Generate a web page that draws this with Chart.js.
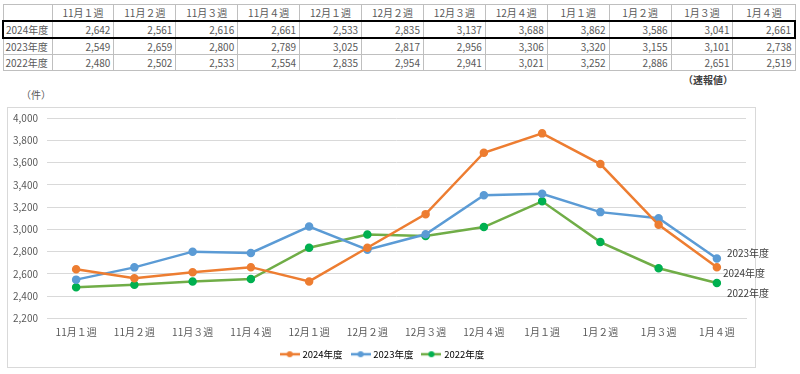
<!DOCTYPE html>
<html>
<head>
    <style>
        body, html {
            margin: 0;
            width: 800px;
            height: 374px;
            background: #ffffff;
            font-family: 'Noto Sans CJK JP', sans-serif;
            overflow: hidden;
        }
        #dataTable {
            position: absolute;
            left: 2px;
            top: 4px;
            width: 794px;
            border-collapse: collapse;
            table-layout: fixed;
            font-size: 10px;
            color: #595959;
        }
        #dataTable td {
            border: 1px solid #bfbfbf;
            height: 15px;
            padding: 0 3px;
            line-height: 15px;
            white-space: nowrap;
            text-align: right;
        }
        #dataTable tr.head td { text-align: center; }
        #dataTable td.rowLabel { text-align: left; padding-left: 2px; }
        #dataTable tr.current td {
            border-top: 2px solid #000;
            border-bottom: 2px solid #000;
        }
        #dataTable tr.current td:first-child { border-left: 2px solid #000; }
        #dataTable tr.current td:last-child { border-right: 2px solid #000; }
        #note {
            position: absolute;
            left: 683px;
            top: 72px;
            font-size: 10px;
            font-weight: bold;
            color: #404040;
        }
        #unit {
            position: absolute;
            left: 21px;
            top: 87px;
            font-size: 10px;
            color: #595959;
        }
        #chartBox {
            position: absolute;
            left: 7px;
            top: 107px;
            width: 747px;
            height: 259px;
            border: 1px solid #d9d9d9;
        }
        #chartWrap {
            position: absolute;
            left: 0;
            top: 100px;
            width: 800px;
            height: 274px;
        }
    </style>
    <script src="https://cdn.jsdelivr.net/npm/chart.js"></script>
</head>
<body>
    <table id="dataTable"></table>
    <div id="note">（速報値）</div>
    <div id="unit">（件）</div>
    <div id="chartBox"></div>
    <div id="chartWrap"><canvas id="weeklyChart"></canvas></div>

    <script>
        // weeks and yearly counts
        const weeks = ["11月１週", "11月２週", "11月３週", "11月４週", "12月１週", "12月２週",
                       "12月３週", "12月４週", "1月１週", "1月２週", "1月３週", "1月４週"];
        const seriesNames = ["2024年度", "2023年度", "2022年度"];
        const values2024 = [2642, 2561, 2616, 2661, 2533, 2835, 3137, 3688, 3862, 3586, 3041, 2661];
        const values2023 = [2549, 2659, 2800, 2789, 3025, 2817, 2956, 3306, 3320, 3155, 3101, 2738];
        const values2022 = [2480, 2502, 2533, 2554, 2835, 2954, 2941, 3021, 3252, 2886, 2651, 2519];
        const yMin = 2200;
        const yMax = 4000;
        const yStep = 200;

        const allValues = [values2024, values2023, values2022];
        const lineColors = ['#ED7D31', '#5B9BD5', '#70AD47'];
        const pointColors = ['#ED7D31', '#5B9BD5', '#00B050'];

        const fmt = v => v.toLocaleString('en-US');

        // build table
        const table = document.getElementById('dataTable');
        let html = '<colgroup><col style="width:49px">';
        weeks.forEach(() => html += '<col>');
        html += '</colgroup><tr class="head"><td></td>';
        weeks.forEach(w => html += `<td>${w}</td>`);
        html += '</tr>';
        seriesNames.forEach((name, i) => {
            html += `<tr class="${i === 0 ? 'current' : ''}"><td class="rowLabel">${name}</td>`;
            allValues[i].forEach(v => html += `<td>${fmt(v)}</td>`);
            html += '</tr>';
        });
        table.innerHTML = html;

        // legend marker: short line with a dot
        function legendMarker(lineColor, dotColor) {
            const c = document.createElement('canvas');
            c.width = 20;
            c.height = 8;
            const g = c.getContext('2d');
            g.strokeStyle = lineColor;
            g.lineWidth = 2.5;
            g.beginPath();
            g.moveTo(0, 4);
            g.lineTo(20, 4);
            g.stroke();
            g.fillStyle = dotColor;
            g.beginPath();
            g.arc(10, 4, 3, 0, Math.PI * 2);
            g.fill();
            return c;
        }

        // series names next to the last point
        const endLabelOffsets = [{dx: 6, dy: 6}, {dx: 10, dy: -5}, {dx: 10, dy: 10}];
        const endLabels = {
            id: 'endLabels',
            afterDatasetsDraw(chart) {
                const ctx = chart.ctx;
                ctx.save();
                ctx.font = "10px 'Noto Sans CJK JP', sans-serif";
                ctx.fillStyle = '#404040';
                ctx.textBaseline = 'middle';
                ctx.textAlign = 'left';
                chart.data.datasets.forEach((ds, i) => {
                    const meta = chart.getDatasetMeta(i);
                    const pt = meta.data[meta.data.length - 1];
                    const off = endLabelOffsets[i];
                    ctx.fillText(ds.label, pt.x + off.dx, pt.y + off.dy);
                });
                ctx.restore();
            }
        };

        // legend is centred on the framed box, not on the plot
        const legendShift = {
            id: 'legendShift',
            afterLayout(chart) {
                chart.legend.left += 10;
                chart.legend.right += 10;
            }
        };

        Chart.defaults.font.family = "'Noto Sans CJK JP', sans-serif";
        Chart.defaults.font.size = 10;
        Chart.defaults.color = '#595959';

        const ctx = document.getElementById('weeklyChart').getContext('2d');
        const weeklyChart = new Chart(ctx, {
            type: 'line',
            data: {
                labels: weeks,
                datasets: seriesNames.map((name, i) => ({
                    label: name,
                    data: allValues[i],
                    borderColor: lineColors[i],
                    backgroundColor: pointColors[i],
                    pointBackgroundColor: pointColors[i],
                    pointBorderColor: pointColors[i],
                    borderWidth: 2.5,
                    pointRadius: 3,
                    tension: 0,
                    fill: false
                }))
            },
            options: {
                responsive: true,
                maintainAspectRatio: false,
                animation: false,
                layout: {
                    padding: { top: 18, right: 54, left: 0, bottom: 5 }
                },
                scales: {
                    x: {
                        offset: true,
                        grid: { display: false, drawTicks: false },
                        border: { display: true, color: '#d9d9d9' },
                        ticks: { padding: 8, maxRotation: 0, autoSkip: false },
                        afterFit: s => { s.height = 21; }
                    },
                    y: {
                        min: yMin,
                        max: yMax,
                        grid: { color: '#d9d9d9', drawTicks: false },
                        border: { display: false },
                        ticks: {
                            stepSize: yStep,
                            padding: 9,
                            callback: v => fmt(v)
                        },
                        afterFit: s => { s.width = 47; }
                    }
                },
                plugins: {
                    legend: {
                        position: 'bottom',
                        labels: {
                            usePointStyle: true,
                            pointStyleWidth: 16,
                            boxHeight: 8,
                            padding: 10,
                            font: { size: 9.5 },
                            generateLabels: chart => chart.data.datasets.map((ds, i) => ({
                                text: ds.label,
                                pointStyle: legendMarker(lineColors[i], pointColors[i]),
                                fillStyle: lineColors[i],
                                strokeStyle: lineColors[i],
                                lineWidth: 0,
                                datasetIndex: i,
                                hidden: false
                            }))
                        }
                    },
                    tooltip: { enabled: false }
                }
            },
            plugins: [endLabels, legendShift]
        });
    </script>
</body>
</html>
